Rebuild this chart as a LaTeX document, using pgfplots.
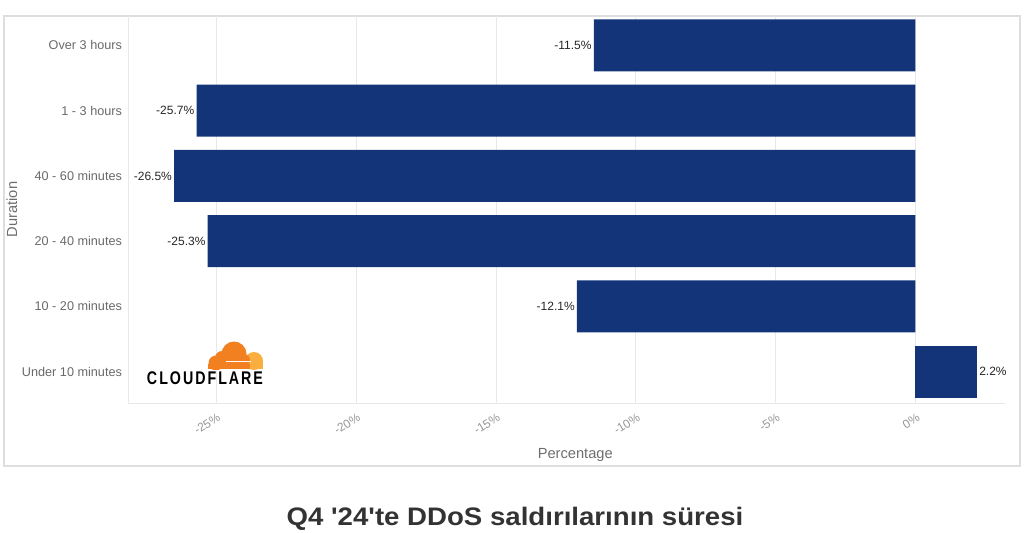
\documentclass[border=0pt]{standalone}
\usepackage{pgfplots}
\pgfplotsset{compat=1.18}
\usepackage{fontspec}
\setmainfont{Liberation Sans}
\newfontfamily\logofont[LetterSpace=14]{Liberation Sans}
\newfontfamily\titlefont[Ligatures=TeXOff]{Liberation Sans}
\definecolor{barc}{RGB}{20,52,122}
\definecolor{gridc}{RGB}{232,232,232}
\definecolor{framec}{RGB}{222,222,222}
\definecolor{tickc}{RGB}{105,105,105}
\definecolor{xtickc}{RGB}{150,150,150}
\definecolor{labc}{RGB}{110,110,110}
\definecolor{cforange}{RGB}{243,128,32}
\definecolor{cflight}{RGB}{250,174,64}
\definecolor{titlec}{RGB}{51,51,51}
\begin{document}
\begin{tikzpicture}
\begin{scope}[x=0.75pt,y=-0.75pt]
\path (0,0) rectangle (1024,532);
\draw[framec, line width=0.8pt] (4,16) rectangle (1020,466);
\end{scope}
\begin{axis}[
  at={(96pt,-302.25pt)}, anchor=south west,
  scale only axis, width=657.75pt, height=290.25pt,
  xbar, bar width=39pt, bar shift=0pt,
  xmin=-28.15, xmax=3.2, ymin=-0.48, ymax=5.45,
  ytick={0,...,5},
  yticklabels={Under 10 minutes, 10 - 20 minutes, 20 - 40 minutes, 40 - 60 minutes, 1 - 3 hours, Over 3 hours},
  xtick={-25,-20,-15,-10,-5,0},
  /pgf/number format/assume math mode=true,
  xticklabel={\pgfmathprintnumber{\tick}\%},
  xmajorgrids, grid style={gridc, line width=0.5pt},
  axis lines=left, axis line style={-, gridc, line width=0.6pt},
  major tick length=0pt,
  yticklabel style={font=\fontsize{9.5}{10}\selectfont, text=tickc, xshift=-1pt},
  xticklabel style={font=\fontsize{9}{10}\selectfont, text=xtickc, rotate=32, anchor=north east, xshift=0pt, yshift=-3pt},
  xlabel={Percentage}, ylabel={Duration},
  every axis x label/.style={at={(axis description cs:0.51,-0.134)}, anchor=center, font=\fontsize{11}{12}\selectfont, text=labc},
  every axis y label/.style={at={(axis description cs:-0.1323,0.5)}, rotate=90, anchor=center, font=\fontsize{11}{12}\selectfont, text=labc},
  nodes near coords={\pgfmathprintnumber[fixed,precision=1,fixed zerofill]{\pgfplotspointmeta}\%},
  nodes near coords style={font=\fontsize{9}{10}\selectfont, text=black!85, inner sep=1.5pt},
  clip=false,
]
\addplot[fill=barc, draw=none, nodes near coords style={anchor=east}] coordinates {(-12.1,1) (-25.3,2) (-26.5,3) (-25.7,4) (-11.5,5)};
\addplot[fill=barc, draw=none, nodes near coords style={anchor=west}] coordinates {(2.2,0)};
\end{axis}
\begin{scope}[x=0.75pt,y=-0.75pt]
% Cloudflare logo (decorative)
\begin{scope}
\clip (200,330) rectangle (270,369);
\fill[cflight] (254,361) circle (9);
\fill[cflight] (246,363) rectangle (263,369);
\fill[cforange] (234,354) circle (12.5);
\fill[cforange] (216,363) circle (7.5);
\fill[cforange] (222,358) circle (7);
\fill[cforange] (208,364) rectangle (250,369);
\fill[cforange] (244,360) circle (6);
\end{scope}
\draw[white, line width=0.9pt] (226,361.5) -- (251,361.5);
\node[anchor=center, inner sep=0pt] at (205,378) {\resizebox{87pt}{9.6pt}{\logofont\bfseries CLOUDFLARE}};
% title
\node[anchor=base, inner sep=0pt, text=titlec] at (515,525) {\scalebox{1.09}[1]{\fontsize{19}{22}\titlefont\bfseries Q4 '24'te DDoS saldırılarının süresi}};
\end{scope}
\end{tikzpicture}
\end{document}
